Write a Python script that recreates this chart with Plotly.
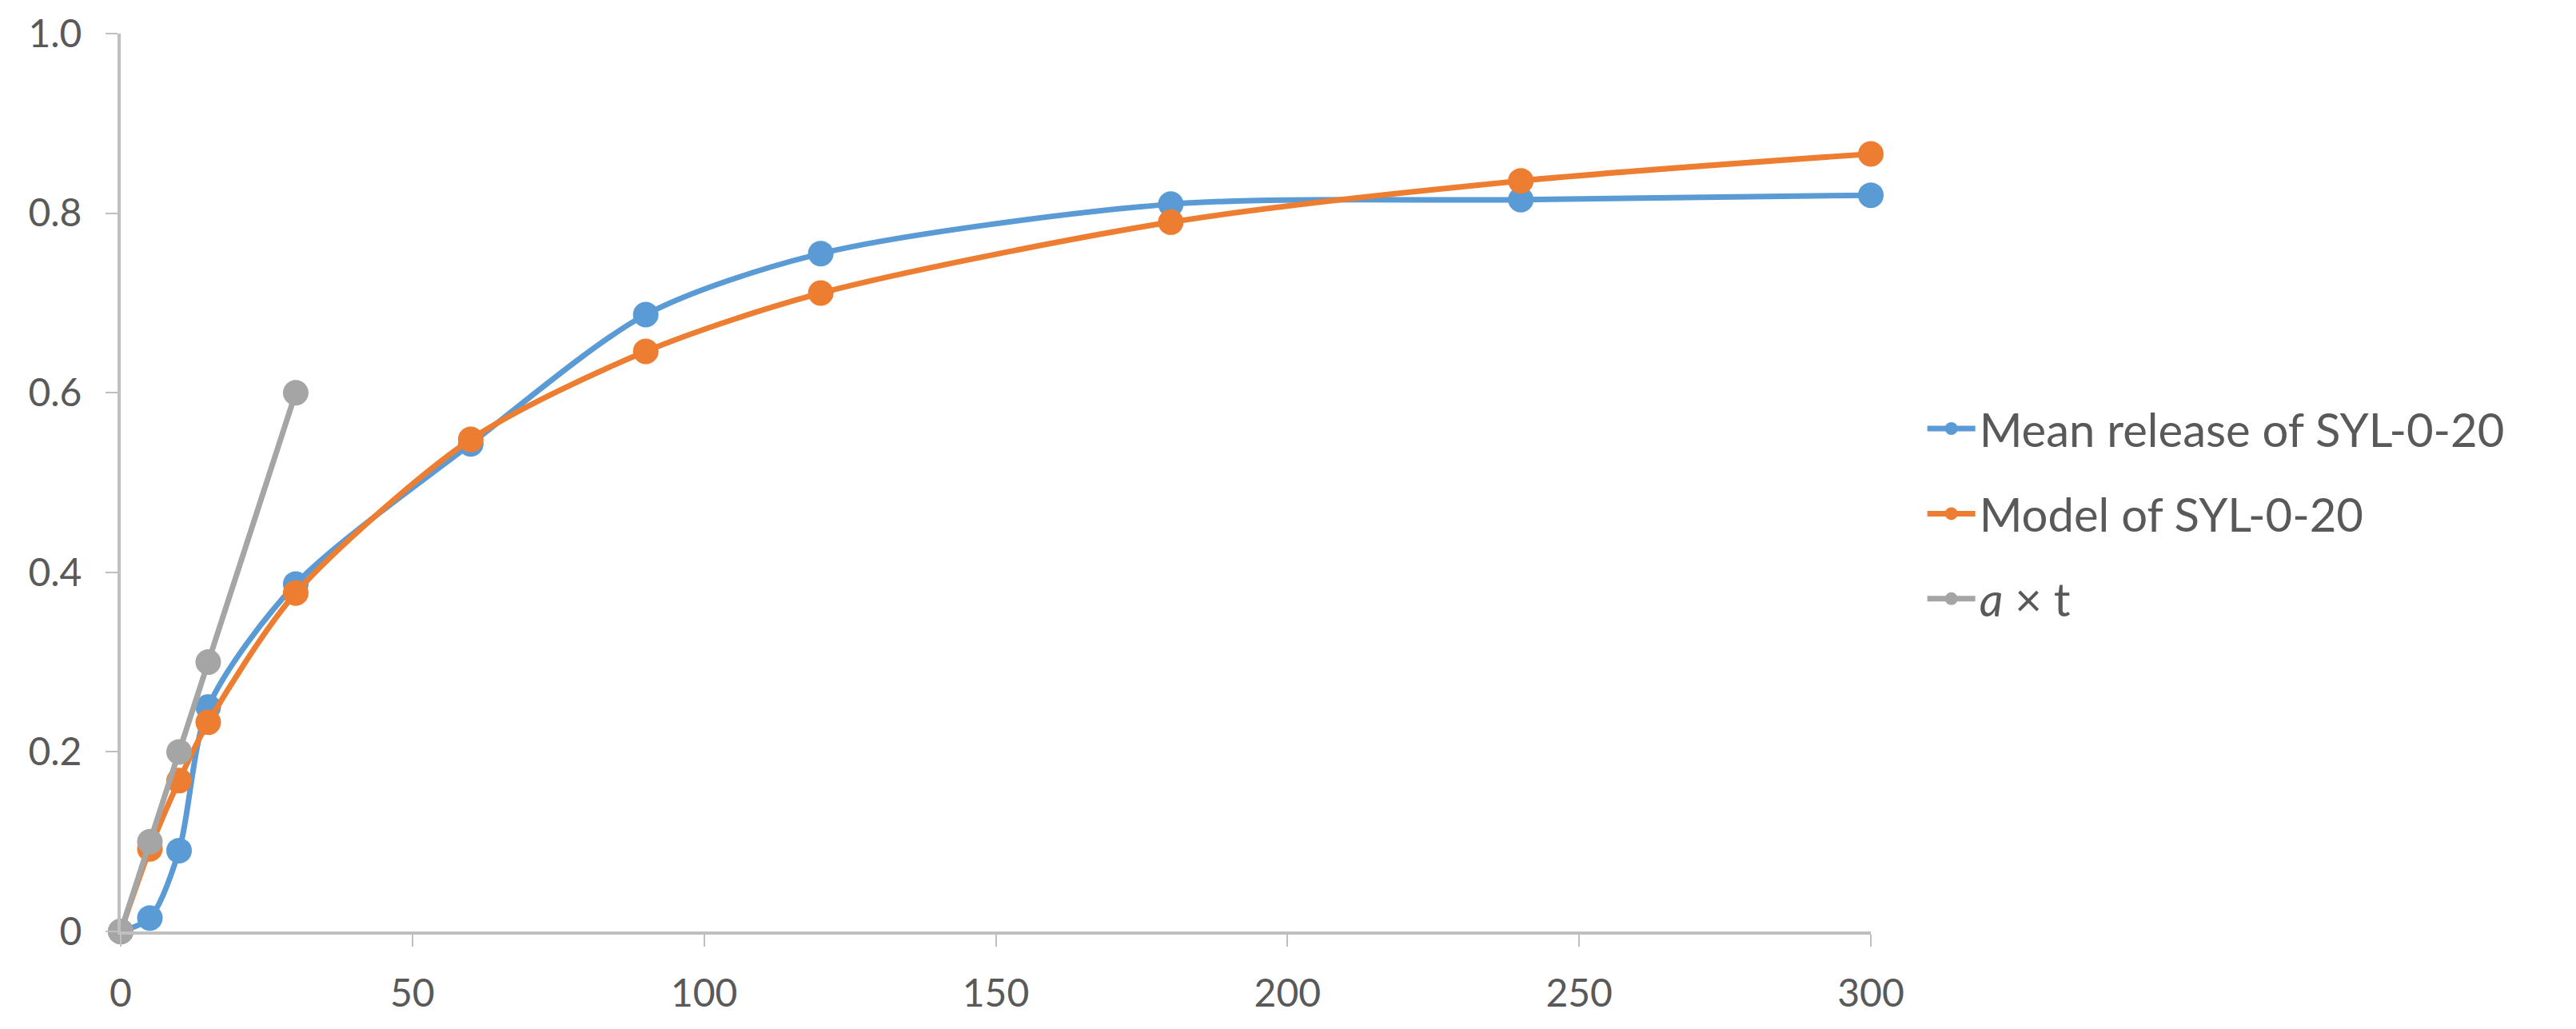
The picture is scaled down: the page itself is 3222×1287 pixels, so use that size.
import plotly.graph_objects as go

t_mean = [0, 5, 10, 15, 30, 60, 90, 120, 180, 240, 300]
mean_release = [0, 0.015, 0.09, 0.25, 0.387, 0.543, 0.687, 0.755, 0.81, 0.815, 0.82]

t_model = [0, 5, 10, 15, 30, 60, 90, 120, 180, 240, 300]
model_release = [0, 0.092, 0.168, 0.233, 0.377, 0.548, 0.646, 0.711, 0.79, 0.836, 0.866]

t_linear = [0, 5, 10, 15, 30]
linear_release = [0, 0.1, 0.2, 0.3, 0.6]

x_ticks = [0, 50, 100, 150, 200, 250, 300]
y_ticks = [0, 0.2, 0.4, 0.6, 0.8, 1.0]
y_ticklabels = ["0", "0.2", "0.4", "0.6", "0.8", "1.0"]

BLUE = "#5b9bd5"
ORANGE = "#ed7d31"
GRAY = "#a5a5a5"
TXT = "#595959"
AX = "#bfbfbf"
FONT = "Lato, 'Open Sans', sans-serif"

fig = go.Figure()
fig.add_trace(go.Scatter(
    x=t_mean, y=mean_release, name="Mean release of SYL-0-20", legendgroup="a",
    mode="lines+markers", line=dict(color=BLUE, width=7, shape="spline", smoothing=0.8),
    marker=dict(color=BLUE, size=32, line=dict(width=0)), cliponaxis=False))
fig.add_trace(go.Scatter(
    x=t_model, y=model_release, name="Model of SYL-0-20", legendgroup="b",
    mode="lines+markers", line=dict(color=ORANGE, width=7, shape="spline", smoothing=0.8),
    marker=dict(color=ORANGE, size=32, line=dict(width=0)), cliponaxis=False))
fig.add_trace(go.Scatter(
    x=t_linear, y=linear_release, name="<i>a</i> × t", legendgroup="c",
    mode="lines+markers", line=dict(color=GRAY, width=7),
    marker=dict(color=GRAY, size=32, line=dict(width=0)), cliponaxis=False))

fig.update_layout(
    width=3222, height=1287,
    margin=dict(l=143, r=890, t=34, b=130, autoexpand=False),
    paper_bgcolor="white", plot_bgcolor="white",
    font=dict(family=FONT, color=TXT, size=48),
    showlegend=True,
    legend=dict(x=1.03, y=0.465, xanchor="left", yanchor="middle",
                font=dict(size=58, color=TXT), itemwidth=60, itemsizing="trace",
                tracegroupgap=28, traceorder="grouped"),
    xaxis=dict(range=[0, 300], tickvals=x_ticks, showgrid=False, zeroline=False,
               showline=True, linecolor=AX, linewidth=4, ticks="outside", automargin=False,
               ticklen=15, tickwidth=2, tickcolor=AX, ticklabelstandoff=17,
               tickfont=dict(size=48, color=TXT)),
    yaxis=dict(range=[0, 1.0], tickvals=y_ticks, ticktext=y_ticklabels, showgrid=False,
               zeroline=False, showline=True, linecolor=AX, linewidth=4, ticks="outside",
               automargin=False,
               ticklen=15, tickwidth=2, tickcolor=AX, ticklabelstandoff=20,
               tickfont=dict(size=48, color=TXT)),
)

fig.write_html("out.html")
